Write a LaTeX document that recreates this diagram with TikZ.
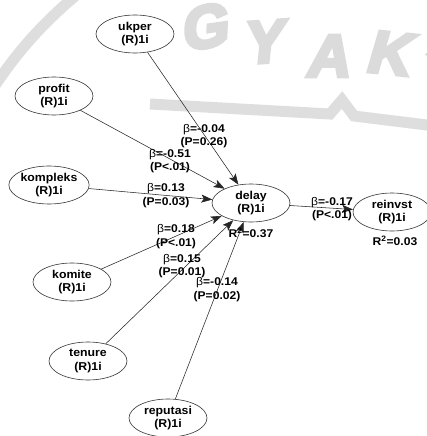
\documentclass[tikz,border=0pt]{standalone}
\usepackage{fontspec}
\setmainfont{Liberation Sans}[FakeStretch=1.08]
\newfontfamily\wmfont{Liberation Sans Bold}[FakeSlant=0.18]
\usetikzlibrary{shapes.geometric,arrows.meta}
\tikzset{
  construct/.style={draw=black!80, line width=0.6pt, ellipse, fill=white,
    minimum width=78pt, minimum height=38pt, inner sep=0pt, align=center,
    font=\fontsize{11.4}{13.5}\selectfont\bfseries},
  lbl/.style={align=center, inner sep=0pt,
    font=\fontsize{11.2}{13.5}\selectfont\bfseries},
  path/.style={draw=black!85, line width=0.55pt,
    -{Stealth[length=11pt,width=8pt,inset=2.5pt]}},
  wm/.style={text=black!14, font=\wmfont\fontsize{60}{60}\selectfont, inner sep=0pt},
}
\newcommand{\bt}{{\mdseries β}}
\newcommand{\heavy}[1]{\special{pdf:literal direct 2 Tr 3.5 w}#1\special{pdf:literal direct 0 Tr 1 w}}
\begin{document}
\begin{tikzpicture}[x=1pt,y=-1pt]
\useasboundingbox (0,0) rectangle (427,436);
% watermark
\draw[black!13, line width=11pt] (80,-8) .. controls (40,25) and (15,55) .. (-8,90);
\draw[black!13, line width=11pt] (150,104) -- (330,114) -- (342,100) -- (354,116) -- (435,126);
\node[wm, rotate=8] (wG) at (203,27) {\heavy{G}};
\node[wm, rotate=4] (wY) at (262,42) {\heavy{Y}};
\node[wm, rotate=0] (wA) at (327,56) {\heavy{A}};
\node[wm, rotate=-6] (wK) at (388,53) {\heavy{K}};
\node[wm, rotate=-12] (wA2) at (452,38) {\heavy{A}};
% constructs
\node[construct] (ukper) at (135,34) {ukper\\(R)1i};
\node[construct] (profit) at (54,96) {profit\\(R)1i};
\node[construct] (kompleks) at (49,185) {kompleks\\(R)1i};
\node[construct] (komite) at (72,282) {komite\\(R)1i};
\node[construct] (tenure) at (88,361) {tenure\\(R)1i};
\node[construct] (reputasi) at (168,418) {reputasi\\(R)1i};
\node[construct] (delay) at (251,203) {delay\\(R)1i};
\node[construct] (reinvst) at (392,212) {reinvst\\(R)1i};
% paths
\draw[path] (ukper) -- (delay);
\draw[path] (profit) -- (delay);
\draw[path] (kompleks) -- (delay);
\draw[path] (komite) -- (delay);
\draw[path] (tenure) -- (delay);
\draw[path] (reputasi) -- (delay);
\draw[path] (delay) -- (reinvst);
% labels
\node[lbl] (l1) at (204,136) {\bt=-0.04\\(P=0.26)};
\node[lbl] (l2) at (170,161) {\bt=-0.51\\(P<.01)};
\node[lbl] (l3) at (166,195.5) {\bt=0.13\\(P=0.03)};
\node[lbl] (l4) at (176,236.5) {\bt=0.18\\(P<.01)};
\node[lbl] (l5) at (182,266) {\bt=0.15\\(P=0.01)};
\node[lbl] (l6) at (217,289.5) {\bt=-0.14\\(P=0.02)};
\node[lbl] (l7) at (332,209) {\bt=-0.17\\(P<.01)};
\node[lbl] (r1) at (251,233) {R\textsuperscript{2}=0.37};
\node[lbl] (r2) at (395,241) {R\textsuperscript{2}=0.03};
\end{tikzpicture}
\end{document}
